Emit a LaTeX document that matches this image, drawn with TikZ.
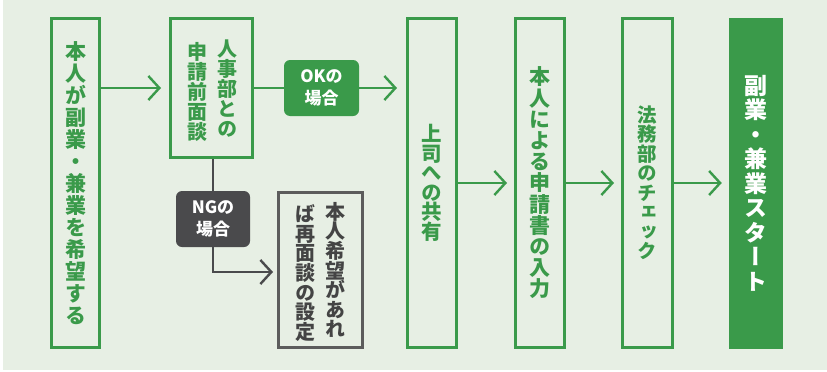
\documentclass[tikz,border=0pt]{standalone}
\usepackage{fontspec}
\newfontfamily\jpv[RawFeature={+vert}]{Noto Sans CJK JP}
\newfontfamily\jp{Noto Sans CJK JP}
\usetikzlibrary{arrows.meta}
\definecolor{bg}{HTML}{E7EFE4}
\definecolor{gr}{HTML}{3A9A4A}
\definecolor{dk}{HTML}{4A4A4C}
\definecolor{gy}{HTML}{5C5C5C}
\definecolor{tx}{HTML}{444444}
\begin{document}
\begin{tikzpicture}[x=1pt,y=-1pt,
  gbox/.style={draw=gr, line width=3pt, inner sep=0pt},
  greybox/.style={draw=gy, line width=3pt, fill=bg, inner sep=0pt},
  fbox/.style={fill=gr, draw=gr, line width=0.5pt, inner sep=0pt},
  tag/.style={rounded corners=6pt, inner sep=0pt, text=white, align=center,
    font=\jp\bfseries\fontsize{17}{22}\selectfont},
  vtext/.style={align=center, inner sep=0pt, text=gr,
    font=\jpv\bfseries\fontsize{21}{22}\selectfont},
  vsmall/.style={align=center, inner sep=0pt, text=gr,
    font=\jpv\bfseries\fontsize{20}{20}\selectfont},
  garrow/.style={draw=gr, line width=2.4pt, -{Straight Barb[length=11pt,width=24pt,line width=2.4pt]}},
  darrow/.style={draw=dk, line width=2.4pt, -{Straight Barb[length=11pt,width=24pt,line width=2.4pt]}},
  gline/.style={draw=gr, line width=2.4pt},
  dline/.style={draw=dk, line width=2.4pt}
]
\useasboundingbox (0,0) rectangle (827,372);
\fill[white] (0,0) rectangle (827,372);
\fill[bg] (3,0) rectangle (827,370);

% boxes
\node[gbox, minimum width=48pt, minimum height=329pt] (b1) at (75.5,183) {};
\node[gbox, minimum width=82pt, minimum height=139pt] (b2) at (211.5,88) {};
\node[greybox, minimum width=84pt, minimum height=155pt] (b3) at (320.5,270) {};
\node[gbox, minimum width=49pt, minimum height=329pt] (b4) at (432,183) {};
\node[gbox, minimum width=49pt, minimum height=329pt] (b5) at (540,183) {};
\node[gbox, minimum width=50pt, minimum height=329pt] (b6) at (647.5,183) {};
\node[fbox, minimum width=53pt, minimum height=330pt] (b7) at (755.5,183) {};

% tags
\node[tag, fill=gr, minimum width=75pt, minimum height=56pt] (ok) at (321.5,88) {OKの\\場合};
\node[tag, fill=dk, minimum width=74pt, minimum height=56pt] (ng) at (213,219) {NGの\\場合};

% texts
\node[vtext] (t1) at (b1.center) {本\\人\\が\\副\\業\\・\\兼\\業\\を\\希\\望\\す\\る};
\node[vsmall] (t2a) at (227,89) {人\\事\\部\\と\\の};
\node[vsmall] (t2b) at (197,92) {申\\請\\前\\面\\談};
\node[vsmall, text=tx, font=\jpv\bfseries\fontsize{20}{19.6}\selectfont] (t3a) at (335,270) {本\\人\\希\\望\\が\\あ\\れ};
\node[vsmall, text=tx, font=\jpv\bfseries\fontsize{20}{19.6}\selectfont] (t3b) at (305,273) {ば\\再\\面\\談\\の\\設\\定};
\node[vtext, font=\jpv\bfseries\fontsize{20.5}{19.5}\selectfont] (t4) at (b4.center) {上\\司\\へ\\の\\共\\有};
\node[vtext, font=\jpv\bfseries\fontsize{21}{21.2}\selectfont] (t5) at (b5.center) {本\\人\\に\\よ\\る\\申\\請\\書\\の\\入\\力};
\node[vtext, font=\jpv\bfseries\fontsize{19.5}{19.5}\selectfont] (t6) at (b6.center) {法\\務\\部\\の\\チ\\ェ\\ッ\\ク};
\node[vtext, text=white, font=\jpv\bfseries\fontsize{23}{24.5}\selectfont] (t7) at (b7.center) {副\\業\\・\\兼\\業\\ス\\タ\\ー\\ト};

% connectors
\draw[garrow, shorten >=8pt] (b1.east |- 0,88) -- (b2.west |- 0,88);
\draw[gline] (b2.east) -- (ok.west);
\draw[garrow, shorten >=9pt] (ok.east) -- (ok.east -| b4.west);
\coordinate (nc) at (ng.south |- 0,272);
\draw[dline] (b2.south -| ng.north) -- (ng.north);
\draw[darrow, shorten >=4pt] (ng.south) -- (nc) -- (b3.west |- nc);
\draw[garrow, shorten >=7pt] (b4.east) -- (b5.west);
\draw[garrow, shorten >=7pt] (b5.east) -- (b6.west);
\draw[garrow, shorten >=7pt] (b6.east) -- (b7.west);
\end{tikzpicture}
\end{document}
